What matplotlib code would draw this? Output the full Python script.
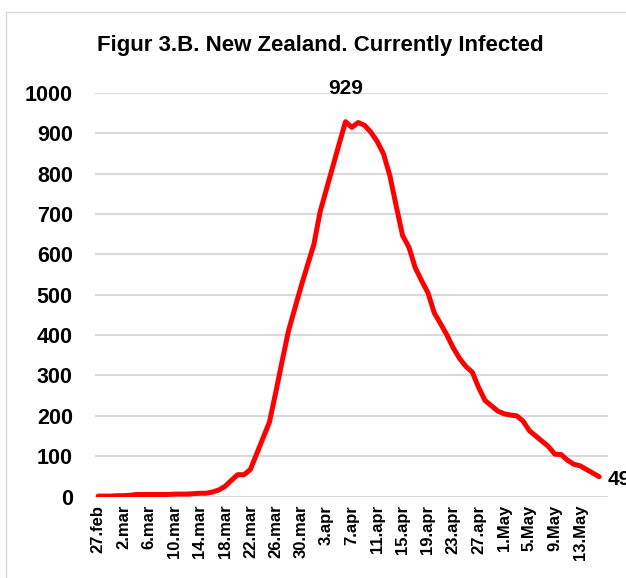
import matplotlib.pyplot as plt
from matplotlib.patches import Rectangle

# Currently infected, New Zealand, daily from 27 Feb to 16 May (2020)
active = [1, 1, 1, 2, 2, 3, 5, 5, 5, 5,
          5, 5, 6, 6, 6, 7, 8, 8, 11, 16,
          25, 40, 54, 54, 67, 106, 145, 184, 258, 335,
          410, 466, 521, 573, 624, 706, 762, 818, 874, 929,
          915, 927, 920, 903, 880, 849, 795, 720, 647, 618,
          567, 535, 505, 455, 428, 400, 368, 342, 322, 308,
          270, 238, 225, 212, 205, 202, 200, 187, 163, 150,
          137, 124, 105, 104, 90, 80, 76, 67, 58, 49]
days = list(range(len(active)))

tick_labels = ['27.feb', '2.mar', '6.mar', '10.mar', '14.mar', '18.mar',
               '22.mar', '26.mar', '30.mar', '3.apr', '7.apr', '11.apr',
               '15.apr', '19.apr', '23.apr', '27.apr', '1.May', '5.May',
               '9.May', '13.May']
tick_pos = days[::4][:len(tick_labels)]

plt.rcParams['font.family'] = ['Liberation Sans', 'DejaVu Sans']

fig = plt.figure(figsize=(6.26, 5.78), dpi=100)
ax = fig.add_axes([0.1518, 0.141, 0.8195, 0.698])

# light chart-area border
fig.patches.append(Rectangle((6 / 626, -0.1), 1.2, 1.1 - 12 / 578,
                             transform=fig.transFigure, fill=False,
                             edgecolor='#d9d9d9', lw=1))

ax.plot(days, active, color='#ff0000', lw=3.6,
        solid_joinstyle='round', solid_capstyle='round', zorder=3)

ax.set_xlim(-0.5, 80.4)
ax.set_ylim(0, 1000)
ax.set_yticks(range(0, 1001, 100))
ax.set_xticks(tick_pos)
ax.set_xticklabels(tick_labels, rotation=90, fontsize=12, fontweight='bold')
for lab in ax.get_yticklabels():
    lab.set_fontsize(15.5)
    lab.set_fontweight('bold')
ax.tick_params(axis='y', length=0, pad=16)
ax.tick_params(axis='x', length=0, pad=6)

ax.grid(axis='y', color='#d9d9d9', lw=1.5, zorder=0)
for s in ax.spines.values():
    s.set_visible(False)

# data labels
peak = active.index(max(active))
ax.annotate(str(max(active)), (days[peak], active[peak]),
            xytext=(0, 33), textcoords='offset pixels', ha='center',
            va='center', fontsize=15, fontweight='bold')
ax.annotate(str(active[-1]), (days[-1], active[-1]), xytext=(8, -3),
            textcoords='offset pixels', ha='left', va='center',
            fontsize=15, fontweight='bold', annotation_clip=False)

fig.text(0.511, 0.922, 'Figur 3.B. New Zealand. Currently Infected',
         ha='center', va='center', fontsize=16, fontweight='bold')

fig.savefig('out.png', dpi=100)
